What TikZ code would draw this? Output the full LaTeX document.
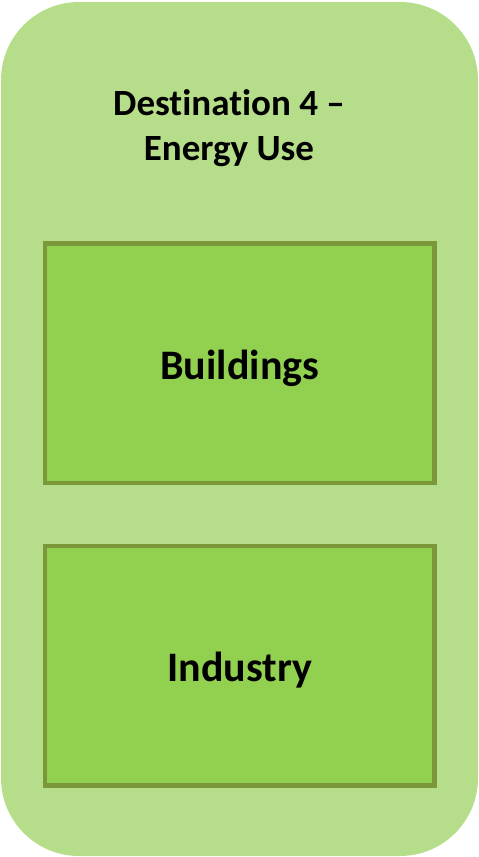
\documentclass[tikz,border=0pt]{standalone}
\usepackage{fontspec}
\setmainfont[Ligatures=NoCommon]{Carlito}
\definecolor{panelfill}{HTML}{B6DE8A}
\definecolor{boxfill}{HTML}{92D050}
\definecolor{boxline}{HTML}{7A973A}
\begin{document}
\begin{tikzpicture}[x=1pt,y=-1pt,
  panel/.style={fill=panelfill, draw=none, rounded corners=78pt, inner sep=0pt},
  sector/.style={fill=boxfill, draw=boxline, line width=4.5pt, inner sep=0pt,
    minimum width=389.5pt, minimum height=239.5pt},
  sectortext/.style={inner sep=0pt, font=\fontsize{42}{50}\selectfont\bfseries},
  titletext/.style={align=center, inner sep=0pt,
    font=\fontsize{37}{45}\selectfont\bfseries}]
\useasboundingbox (0,0) rectangle (479,857);
\node[panel, minimum width=477pt, minimum height=854pt] (outer) at (239.5,429) {};
\node[titletext] (title) at (229,128) {Destination 4 –\\Energy Use};
\node[sector] (buildings) at (239.75,363) {};
\node[sector] (industry) at (239.75,665.5) {};
\node[sectortext] (buildingslabel) at ([yshift=-5pt]buildings.center) {Buildings};
\node[sectortext] (industrylabel) at ([yshift=-5pt]industry.center) {Industry};
\end{tikzpicture}
\end{document}
